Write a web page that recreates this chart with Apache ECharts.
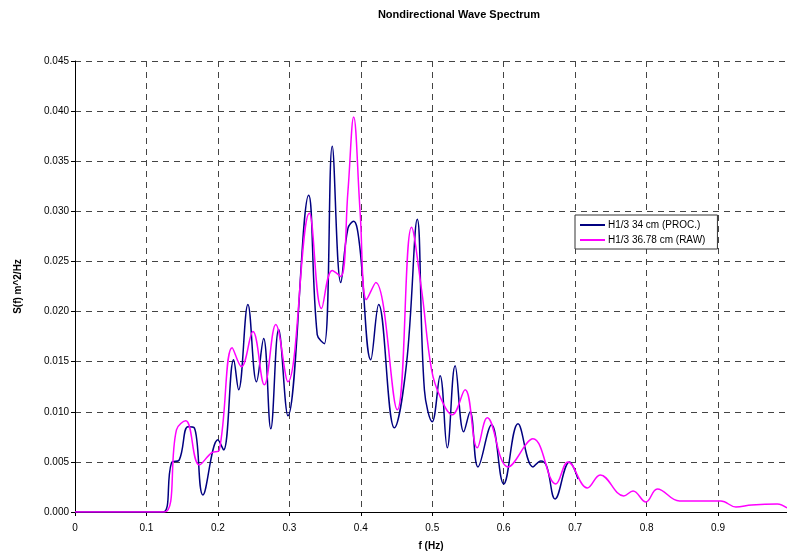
<!DOCTYPE html>
<html>
<head>
<meta charset="utf-8">
<title>Nondirectional Wave Spectrum</title>
<script src="https://cdn.jsdelivr.net/npm/echarts@6/dist/echarts.min.js"></script>
<style>
  html, body { margin: 0; padding: 0; background: #fff; }
  #main { width: 787px; height: 552px; }
</style>
</head>
<body>
<div id="main"></div>
<script>
// series names
var procName = 'H1/3 34 cm (PROC.)';
var rawName = 'H1/3 36.78 cm (RAW)';

// [f (Hz), S(f)]
var procData = [
    [0, 0], [0.123, 0], [0.135, 0.0049], [0.146, 0.0052], [0.158, 0.0085], [0.167, 0.0084],
    [0.179, 0.0017], [0.200, 0.0072], [0.208, 0.0062], [0.222, 0.0152], [0.229, 0.0122],
    [0.242, 0.0207], [0.254, 0.0130], [0.264, 0.0173], [0.274, 0.0083], [0.285, 0.0182],
    [0.298, 0.0096], [0.327, 0.0316], [0.339, 0.0177], [0.349, 0.0168], [0.360, 0.0365],
    [0.372, 0.0229], [0.382, 0.0283], [0.390, 0.0290], [0.398, 0.0268], [0.414, 0.0152],
    [0.425, 0.0207], [0.447, 0.0084], [0.464, 0.0148], [0.479, 0.0292], [0.489, 0.0122],
    [0.500, 0.0090], [0.511, 0.0136], [0.521, 0.0064], [0.532, 0.0146], [0.544, 0.0080],
    [0.553, 0.0100], [0.564, 0.0045], [0.583, 0.0087], [0.600, 0.0028], [0.620, 0.0088],
    [0.641, 0.0045], [0.652, 0.0051], [0.660, 0.0046], [0.672, 0.0013], [0.692, 0.0050],
    [0.704, 0.0033]
];

var rawData = [
    [0, 0], [0.125, 0], [0.142, 0.0082], [0.155, 0.0091], [0.174, 0.0047], [0.191, 0.0059],
    [0.202, 0.0062], [0.220, 0.0164], [0.233, 0.0145], [0.249, 0.0180], [0.265, 0.0127],
    [0.281, 0.0187], [0.298, 0.0130], [0.328, 0.0298], [0.345, 0.0203], [0.360, 0.0241],
    [0.372, 0.0235], [0.382, 0.0320], [0.390, 0.0394], [0.399, 0.0300], [0.408, 0.0212],
    [0.421, 0.0229], [0.451, 0.0102], [0.471, 0.0284], [0.485, 0.0222], [0.499, 0.0142],
    [0.511, 0.0115], [0.528, 0.0097], [0.546, 0.0122], [0.563, 0.0064], [0.577, 0.0094],
    [0.606, 0.0045], [0.641, 0.0073], [0.673, 0.0028], [0.690, 0.0050], [0.717, 0.0024],
    [0.735, 0.0037], [0.768, 0.0016], [0.781, 0.0021], [0.799, 0.0010], [0.815, 0.0023],
    [0.846, 0.0011], [0.904, 0.0011], [0.925, 0.0005], [0.947, 0.0007], [0.983, 0.0008],
    [0.9965, 0.0004]
];

var fMax = 0.9965;
var sMax = 0.045;

var font = 'Liberation Sans, Arial, sans-serif';
var gridDash = {
    show: true,
    lineStyle: { color: '#444', type: [6, 5], width: 1 }
};

var myChart = echarts.init(document.getElementById('main'));

var option = {
    animation: false,
    backgroundColor: '#fff',
    title: {
        text: 'Nondirectional Wave Spectrum',
        left: 454,
        top: 4,
        textAlign: 'center',
        textStyle: { fontFamily: font, fontSize: 11, fontWeight: 'bold', color: '#000' }
    },
    legend: {
        orient: 'vertical',
        left: 575,
        top: 215,
        padding: [5, 12, 4, 5],
        itemGap: 5,
        itemWidth: 25,
        itemHeight: 2,
        icon: 'rect',
        backgroundColor: '#fff',
        borderColor: '#333',
        borderWidth: 1,
        borderRadius: 0,
        textStyle: { fontFamily: font, fontSize: 10, color: '#000', padding: [0, 0, 0, -2] },
        data: [procName, rawName]
    },
    grid: {
        left: 75,
        right: 0,
        top: 61,
        bottom: 40,
        containLabel: false,
        outerBoundsMode: 'none'
    },
    xAxis: {
        type: 'value',
        min: 0,
        max: fMax,
        interval: 0.1,
        name: 'f (Hz)',
        nameLocation: 'middle',
        nameGap: 29,
        nameTextStyle: { fontFamily: font, fontSize: 10, fontWeight: 'bold', color: '#000' },
        axisLine: { onZero: false, lineStyle: { color: '#000', width: 1 } },
        axisTick: { show: true, length: 4, lineStyle: { color: '#000' } },
        axisLabel: {
            fontFamily: font, fontSize: 10, color: '#000', margin: 11,
            showMaxLabel: false,
            formatter: function (v) {
                if (v > 0.95) return '';
                return v === 0 ? '0' : (Math.round(v * 10) / 10).toString();
            }
        },
        splitLine: gridDash
    },
    yAxis: {
        type: 'value',
        min: 0,
        max: sMax,
        interval: 0.005,
        name: 'S(f) m^2/Hz',
        nameLocation: 'middle',
        nameGap: 52,
        nameTextStyle: { fontFamily: font, fontSize: 10, fontWeight: 'bold', color: '#000' },
        axisLine: { show: true, lineStyle: { color: '#000', width: 1 } },
        axisTick: { show: true, length: 4, lineStyle: { color: '#000' } },
        axisLabel: {
            fontFamily: font, fontSize: 10, color: '#000', margin: 6,
            formatter: function (v) { return v.toFixed(3); }
        },
        splitLine: gridDash
    },
    series: [{
        name: procName,
        type: 'line',
        data: procData,
        smooth: 0.4,
        showSymbol: false,
        symbol: 'none',
        color: '#000080',
        lineStyle: { color: '#000080', width: 1.5 }
    }, {
        name: rawName,
        type: 'line',
        data: rawData,
        smooth: 0.4,
        showSymbol: false,
        symbol: 'none',
        color: '#ff00ff',
        lineStyle: { color: '#ff00ff', width: 1.5 }
    }]
};

myChart.setOption(option);
</script>
</body>
</html>
